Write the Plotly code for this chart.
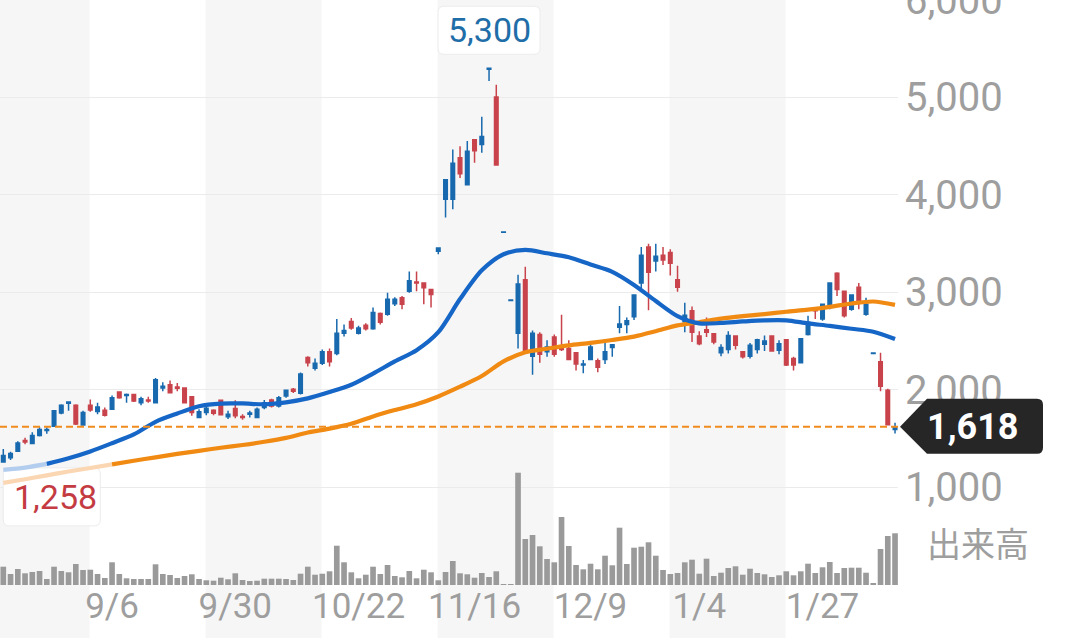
import plotly.graph_objects as go

# ---------------- data ----------------
tick_labels = ["9/6", "9/30", "10/22", "11/16", "12/9", "1/4", "1/27"]
tick_index = [15, 32, 49, 65, 81, 96, 113]

open_ = [1258, 1301, 1368, 1479, 1446, 1530, 1580, 1624, 1759, 1860,
         1839, 1637, 1839, 1775, 1789, 1799, 1977, 1940, 1950, 1866,
         1893, 1866, 2018, 2051, 2028, 2018, 1927, 1715, 1765, 1789,
         1890, 1721, 1806, 1725, 1748, 1715, 1816, 1893, 1833, 1934,
         2005, 1962, 2331, 2220, 2270, 2388, 2371, 2580, 2701, 2580,
         2661, 2624, 2782, 2775, 2883, 2944, 3011, 3105, 3095, 3028,
         3420, 3954, 3954, 4381, 4105, 4566, 4516, 5290, 5004, 3615,
         2915, 2580, 3129, 2344, 2567, 2388, 2540, 2438, 2422, 2378,
         2253, 2310, 2297, 2310, 2432, 2640, 2668, 2748, 3095, 3465,
         3321, 3381, 3408, 3129, 2696, 2809, 2550, 2614, 2573, 2378,
         2412, 2550, 2388, 2344, 2412, 2466, 2550, 2405, 2513, 2321,
         2277, 2567, 2826, 2725, 2843, 3196, 3011, 2826, 3051, 2775,
         2372, 2287, 1994, 1590]

high = [1390, 1361, 1469, 1506, 1563, 1614, 1614, 1782, 1850, 1873,
        1850, 1782, 1900, 1866, 1816, 1940, 1984, 1960, 1957, 1927,
        1927, 2119, 2075, 2095, 2068, 2018, 1934, 1799, 1826, 1799,
        1900, 1782, 1890, 1748, 1782, 1816, 1893, 1907, 1934, 2001,
        2018, 2176, 2344, 2321, 2412, 2422, 2725, 2668, 2735, 2657,
        2681, 2843, 2792, 2994, 2950, 2961, 3213, 3213, 3095, 3028,
        3460, 4155, 4465, 4499, 4553, 4566, 4802, 5300, 5132, 3620,
        2920, 3179, 3263, 2607, 2590, 2506, 2567, 2769, 2506, 2378,
        2304, 2472, 2321, 2499, 2462, 2859, 2742, 2977, 3465, 3499,
        3499, 3465, 3442, 3273, 2893, 2854, 2600, 2742, 2580, 2466,
        2600, 2556, 2388, 2479, 2523, 2556, 2550, 2506, 2513, 2337,
        2523, 2759, 2826, 2876, 3095, 3206, 3011, 2977, 3095, 2944,
        2376, 2378, 2008, 1660]

low = [1258, 1277, 1361, 1439, 1439, 1520, 1547, 1624, 1748, 1782,
       1637, 1631, 1772, 1748, 1725, 1792, 1907, 1866, 1873, 1839,
       1866, 1866, 1984, 1960, 1984, 1860, 1732, 1705, 1738, 1738,
       1738, 1698, 1705, 1691, 1715, 1705, 1799, 1816, 1816, 1917,
       1965, 1950, 2237, 2196, 2253, 2237, 2354, 2546, 2614, 2567,
       2607, 2614, 2668, 2758, 2859, 2826, 2994, 3011, 2876, 2843,
       3390, 3768, 3853, 4172, 4105, 4331, 4432, 5170, 4307, 3615,
       2915, 2422, 2405, 2152, 2277, 2337, 2337, 2398, 2310, 2196,
       2169, 2304, 2179, 2263, 2337, 2580, 2580, 2715, 3028, 2816,
       3213, 3280, 3172, 3004, 2590, 2489, 2455, 2540, 2466, 2344,
       2371, 2412, 2321, 2321, 2371, 2398, 2388, 2364, 2243, 2196,
       2270, 2556, 2725, 2708, 2826, 2961, 2742, 2809, 2826, 2759,
       2372, 1984, 1637, 1550]

close = [1325, 1344, 1452, 1462, 1530, 1590, 1590, 1782, 1839, 1873,
         1647, 1765, 1792, 1822, 1738, 1917, 1917, 1950, 1883, 1907,
         1883, 2102, 2035, 1967, 2014, 1866, 1765, 1772, 1809, 1758,
         1742, 1748, 1732, 1715, 1759, 1799, 1866, 1833, 1917, 1994,
         1984, 2160, 2277, 2270, 2388, 2287, 2580, 2607, 2634, 2634,
         2624, 2792, 2691, 2927, 2927, 2876, 3119, 3095, 3045, 2977,
         3455, 4155, 4324, 4216, 4448, 4452, 4600, 5300, 4307, 3620,
         2920, 3085, 2405, 2580, 2364, 2438, 2364, 2412, 2310, 2263,
         2263, 2438, 2230, 2388, 2462, 2674, 2708, 2971, 3381, 3206,
         3371, 3331, 3297, 3051, 2765, 2590, 2470, 2590, 2489, 2432,
         2556, 2455, 2337, 2455, 2513, 2499, 2398, 2472, 2253, 2253,
         2523, 2691, 2809, 2876, 3095, 3028, 2759, 2971, 2893, 2876,
         2376, 2034, 1640, 1618]

volume = [18.3, 11, 16, 11.7, 13, 14, 6, 18.3, 14, 12.7,
          21, 15, 15.3, 11, 7, 22.7, 11, 6.7, 6, 6,
          6, 20.7, 11, 10, 7, 9, 10.7, 6, 4.7, 4.3,
          7.3, 5.7, 11.7, 5, 4, 4.3, 6.3, 6.3, 6.3, 6,
          5, 11.3, 18.3, 10.3, 11.3, 13.7, 39.3, 22.7, 12.7, 6.7,
          10.3, 18.3, 11, 20, 9, 7.7, 14, 6.7, 15.3, 12.7,
          4.7, 13, 24, 11.7, 10.7, 7.3, 12, 8, 13.7, 1,
          0.3, 112.3, 46, 50, 38.7, 26, 22.7, 68, 39, 20,
          15.7, 21.3, 15.7, 29.3, 19.7, 57.3, 21, 37.3, 38.3, 42.7,
          29.3, 15, 11, 12, 22.7, 25.3, 11.3, 26.3, 9, 12.3,
          17, 18.7, 10.3, 16.3, 12, 10.7, 8, 9.7, 13.7, 9.7,
          13.7, 21.3, 12, 17.7, 23, 12, 17, 17.3, 17.3, 12.3,
          1.7, 36, 49, 51.7]

ma_index = list(range(0, 124, 3))
ma_short = [1176, 1200, 1238, 1295, 1365, 1450, 1540, 1670, 1755, 1830,
            1857, 1858, 1850, 1870, 1910, 1975, 2050, 2165, 2290, 2405,
            2590, 2930, 3225, 3390, 3435, 3400, 3360, 3285, 3210, 3075,
            2910, 2755, 2680, 2685, 2700, 2712, 2712, 2680, 2655, 2625,
            2595, 2520]
ma_long = [1042, 1080, 1120, 1160, 1195, 1232, 1270, 1305, 1340, 1372,
           1403, 1432, 1465, 1505, 1560, 1600, 1650, 1725, 1790, 1850,
           1930, 2030, 2140, 2290, 2385, 2420, 2455, 2480, 2510, 2545,
           2600, 2660, 2692, 2730, 2755, 2775, 2800, 2822, 2850, 2885,
           2905, 2870]
ma_short_full_from = 6    # bar index where the short MA becomes solid
ma_long_full_from = 15    # bar index where the long MA becomes solid

price_ticks = [1000, 2000, 3000, 4000, 5000, 6000]
volume_label = "出来高"

# ---------------- layout constants ----------------
W, H = 1080, 638
PLOT_W = 898
BOTTOM_PX = 585
VOL_H_PX = 120
Y_RANGE = [-6, 6001]
X_RANGE = [-0.455, 123.41]
BAND_PERIOD = 16
BAND_FIRST = 11.9

BLUE_C = "#1869ae"
RED_C = "#c8434b"
MA_BLUE = "#1566c6"
MA_BLUE_FADE = "#b3cdee"
MA_ORANGE = "#f08a12"
MA_ORANGE_FADE = "#fbd6b2"
GRAY_TXT = "#9e9e9e"
FONT = "Roboto, Noto Sans CJK JP, sans-serif"

n = len(close)
x = list(range(n))

fig = go.Figure()

# volume
fig.add_trace(go.Bar(x=x, y=volume, yaxis="y2", marker_color="#9a9a9a",
                     marker_line_width=0, width=0.78, hoverinfo="skip"))

# moving averages (faded head + solid body)
def split(idx_list, vals, cut):
    a = [(i, v) for i, v in zip(idx_list, vals) if i <= cut]
    b = [(i, v) for i, v in zip(idx_list, vals) if i >= cut]
    return a, b

for vals, cut, c_fade, c_full in [(ma_long, ma_long_full_from, MA_ORANGE_FADE, MA_ORANGE),
                                  (ma_short, ma_short_full_from, MA_BLUE_FADE, MA_BLUE)]:
    a, b = split(ma_index, vals, cut)
    for seg, col in [(a, c_fade), (b, c_full)]:
        fig.add_trace(go.Scatter(x=[p[0] for p in seg], y=[p[1] for p in seg],
                                 mode="lines", line=dict(color=col, width=4.2, shape="spline", smoothing=0.8),
                                 hoverinfo="skip"))

# candles
fig.add_trace(go.Candlestick(
    x=x, open=open_, high=high, low=low, close=close,
    increasing=dict(line=dict(color=BLUE_C, width=1.5), fillcolor=BLUE_C),
    decreasing=dict(line=dict(color=RED_C, width=1.5), fillcolor=RED_C),
    whiskerwidth=0, hoverinfo="skip"))

shapes = []
# alternating shaded bands
edges = [X_RANGE[0] - 1]
e = BAND_FIRST
while e < X_RANGE[1]:
    edges.append(e)
    e += BAND_PERIOD
edges.append(X_RANGE[1] + 1)
for i in range(0, len(edges) - 1, 2):
    shapes.append(dict(type="rect", xref="x", yref="paper", x0=edges[i], x1=edges[i + 1],
                       y0=0, y1=1, fillcolor="#f6f6f6", line_width=0, layer="below"))

def rrect(x0, y0, x1, y1, r):
    return (f"M{x0 + r},{y0} L{x1 - r},{y0} Q{x1},{y0} {x1},{y0 + r} L{x1},{y1 - r} "
            f"Q{x1},{y1} {x1 - r},{y1} L{x0 + r},{y1} Q{x0},{y1} {x0},{y1 - r} "
            f"L{x0},{y0 + r} Q{x0},{y0} {x0 + r},{y0} Z")

i_max = max(range(n), key=lambda i: high[i])
i_min = min(range(n), key=lambda i: low[i])
last = close[-1]

# white label boxes
shapes.append(dict(type="path", xref="x", yref="y", xsizemode="pixel", ysizemode="pixel",
                   xanchor=i_max, yanchor=high[i_max], path=rrect(-51, 14, 51, 62, 6),
                   fillcolor="white", line=dict(color="#ececec", width=1), layer="between"))
shapes.append(dict(type="path", xref="x", yref="y", xsizemode="pixel", ysizemode="pixel",
                   xanchor=i_min, yanchor=low[i_min], path=rrect(0, -64, 97, -6, 6),
                   fillcolor="white", line=dict(color="#ececec", width=1), layer="between"))

# dashed last price line
shapes.append(dict(type="line", xref="paper", yref="y", x0=0, x1=1, y0=last, y1=last,
                   line=dict(color="#f08c1e", width=2, dash="7px,4px"), layer="above"))

# price badge
shapes.append(dict(type="path", xref="paper", yref="y", xsizemode="pixel", ysizemode="pixel",
                   xanchor=1, yanchor=last,
                   path="M2,0 L29,28 L139,28 Q145,28 145,22 L145,-21 Q145,-27 139,-27 L29,-27 Z",
                   fillcolor="#262626", line_width=0, layer="above"))

annotations = [
    dict(xref="x", yref="y", x=i_max, y=high[i_max], yshift=38, showarrow=False,
         xanchor="center", yanchor="middle",
         text=f"{high[i_max]:,}", font=dict(size=34, color="#1f6ea8", family=FONT)),
    dict(xref="x", yref="y", x=i_min, y=low[i_min], xshift=52, yshift=-35, showarrow=False,
         xanchor="center", yanchor="middle",
         text=f"{low[i_min]:,}", font=dict(size=34, color="#c43c42", family=FONT)),
    dict(xref="paper", yref="y", x=1 + 74 / PLOT_W, y=last, showarrow=False,
         xanchor="center", yanchor="middle",
         text=f"<b>{last:,}</b>", font=dict(size=36, color="white", family=FONT)),
    dict(xref="paper", yref="paper", x=1 + 27 / PLOT_W, y=1 - 545 / H, xanchor="left",
         yanchor="middle", showarrow=False, text=volume_label,
         font=dict(size=34, color=GRAY_TXT, family=FONT)),
]

dom_bottom = (H - BOTTOM_PX) / H
fig.update_layout(
    width=W, height=H, margin=dict(l=0, r=W - PLOT_W, t=0, b=0, autoexpand=False),
    paper_bgcolor="white", plot_bgcolor="rgba(0,0,0,0)",
    showlegend=False, hovermode=False, font=dict(family=FONT),
    shapes=shapes, annotations=annotations,
    xaxis=dict(range=X_RANGE, tickvals=tick_index, ticktext=tick_labels,
               showgrid=False, zeroline=False, showline=False, ticks="",
               tickfont=dict(size=35, color=GRAY_TXT), rangeslider=dict(visible=False),
               ticklabelstandoff=-3,
               anchor="y", fixedrange=True, automargin=False),
    yaxis=dict(domain=[dom_bottom, 1], range=Y_RANGE, side="right", tickvals=price_ticks,
               tickformat=",", showgrid=True, gridcolor="#ebebeb", gridwidth=1,
               zeroline=False, showline=False, ticks="", ticklabelstandoff=6,
               ticklabeloverflow="allow",
               tickfont=dict(size=40, color=GRAY_TXT), fixedrange=True, automargin=False),
    yaxis2=dict(domain=[dom_bottom, dom_bottom + VOL_H_PX / H], range=[0, VOL_H_PX],
                visible=False, anchor="x", fixedrange=True),
)

fig.write_html("out.html", config={"displayModeBar": False},
               post_script="document.body.style.margin='0px';document.body.style.overflow='hidden';")
